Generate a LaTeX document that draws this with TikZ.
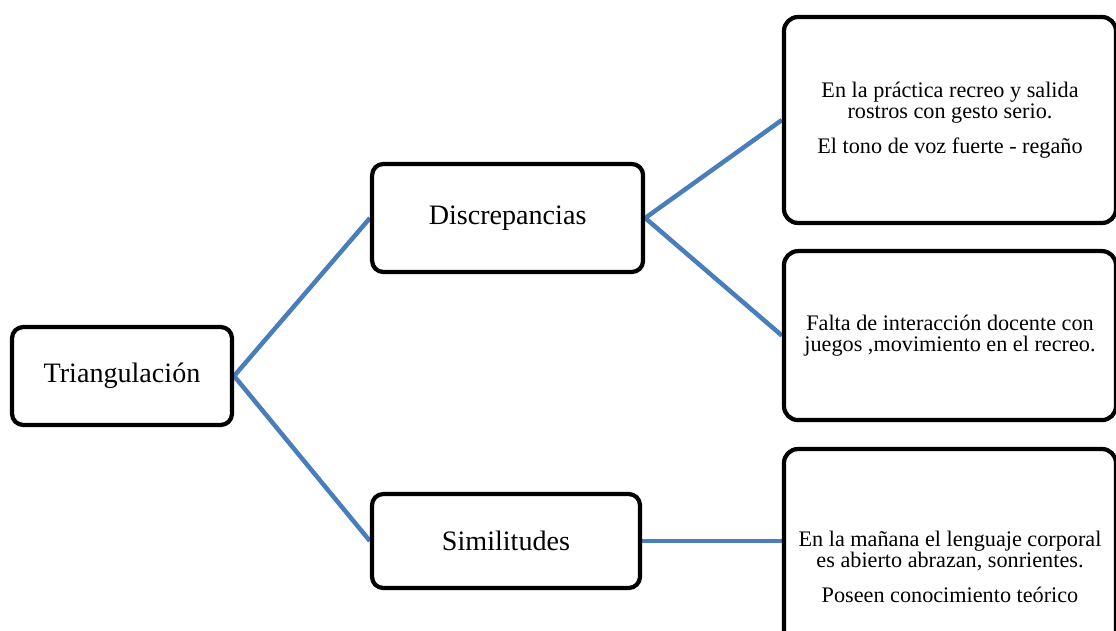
\documentclass[tikz,border=0pt]{standalone}
\usepackage{fontspec}
\setmainfont{Liberation Serif}
\usetikzlibrary{positioning,backgrounds}
\definecolor{linkblue}{RGB}{74,126,187}

\begin{document}
\begin{tikzpicture}[every node/.style={font=\fontsize{15.8}{15}\selectfont},
        box/.style={draw, line width=3pt, rounded corners=10pt, align=center, inner sep=0pt},
        title/.style={box, rounded corners=8pt, font=\fontsize{20}{24}\selectfont},
        link/.style={draw=linkblue, line width=3.2pt}]
                \useasboundingbox (0,0) rectangle (27.9,15.75);
                % left column
                \node[title, minimum width=5.5cm, minimum height=2.45cm] (tri) at (3.05,6.35) {Triangulación};
                % middle column
                \node[title, minimum width=6.775cm, minimum height=2.7cm] (disc) at (12.69,10.3) {Discrepancias};
                \node[title, minimum width=6.7cm, minimum height=2.35cm] (simi) at (12.65,2.225) {Similitudes};
                % right column
                \node[box, minimum width=8.3cm, minimum height=5.15cm] (prac) at (23.75,12.75)
                    {En la práctica recreo y salida\\ rostros con gesto serio.\\[0.35cm] El tono de voz fuerte - regaño};
                \node[box, minimum width=8.3cm, minimum height=4.225cm] (falta) at (23.75,7.36)
                    {Falta de interacción docente con\\ juegos ,movimiento en el recreo.};
                \node[box, minimum width=8.3cm, minimum height=5.9cm] (manana) at (23.75,1.575)
                    {En la mañana el lenguaje corporal\\ es abierto abrazan, sonrientes.\\[0.35cm] Poseen conocimiento teórico};
                \begin{scope}[on background layer]
                \draw[link] (tri.east) -- (disc.west);
                \draw[link] (tri.east) -- (simi.west);
                \draw[link] (disc.east) -- (prac.west);
                \draw[link] (disc.east) -- (falta.west);
                \draw[link] (simi.east) -- (simi.east -| manana.west);
                \end{scope}
            \end{tikzpicture}
\end{document}
